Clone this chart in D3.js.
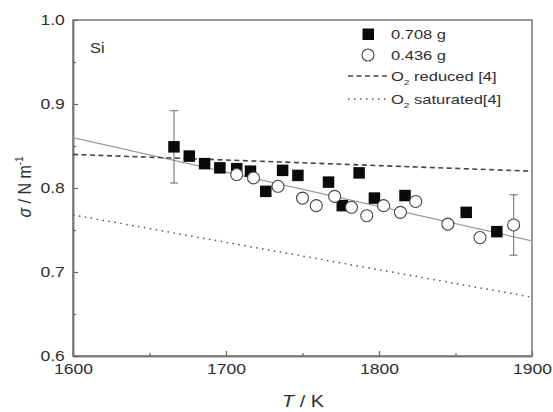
<!DOCTYPE html>
<html>
<head>
<meta charset="utf-8">
<script src="https://cdn.jsdelivr.net/npm/d3@7"></script>
<style>
  body { margin: 0; background: #fff; }
  text { font-family: "Liberation Sans", Arial, sans-serif; fill: #2e2e2e; }
</style>
</head>
<body>
<svg id="chart" width="553" height="412"></svg>
<script>
// surface tension of liquid Si, two sample masses
const heavyT = [1666, 1676, 1686, 1696, 1707, 1716, 1726, 1737, 1747, 1767, 1776, 1787, 1797, 1817, 1857, 1877];
const heavySigma = [0.849, 0.838, 0.829, 0.824, 0.823, 0.820, 0.796, 0.821, 0.815, 0.807, 0.779, 0.818, 0.788, 0.791, 0.771, 0.748];
const lightT = [1707, 1718, 1734, 1750, 1759, 1771, 1782, 1792, 1803, 1814, 1824, 1845, 1866, 1888];
const lightSigma = [0.816, 0.812, 0.802, 0.788, 0.779, 0.790, 0.777, 0.767, 0.779, 0.771, 0.784, 0.757, 0.741, 0.756];

// error bars (one per series)
const errT = [1666, 1888];
const errSigma = [0.849, 0.756];
const errSize = [0.043, 0.036];

// linear fit and literature lines [4]
const fitT = [1600, 1900];
const fitSigma = [0.860, 0.737];
const reducedT = [1600, 1900];
const reducedSigma = [0.840, 0.820];
const saturatedT = [1600, 1900];
const saturatedSigma = [0.768, 0.670];

const xMajor = [1600, 1700, 1800, 1900];
const xMinor = [1650, 1750, 1850];
const yMajor = [0.6, 0.7, 0.8, 0.9, 1.0];
const yMinor = [0.65, 0.75, 0.85, 0.95];

const legendLabels = ['0.708 g', '0.436 g', 'reduced [4]', 'saturated[4]'];

const margin = { top: 20, right: 21, bottom: 56, left: 73 };
const width = 553 - margin.left - margin.right;
const height = 412 - margin.top - margin.bottom;
const stretch = 'scale(1.17,1)';

const svg = d3.select('#chart');
const g = svg.append('g').attr('transform', `translate(${margin.left},${margin.top})`);

const x = d3.scaleLinear().domain([1600, 1900]).range([0, width]);
const y = d3.scaleLinear().domain([0.6, 1.0]).range([height, 0]);

// frame
g.append('rect')
  .attr('width', width)
  .attr('height', height)
  .attr('fill', 'none')
  .attr('stroke', '#777')
  .attr('stroke-width', 1.5);

// axes, ticks pointing inward
const xAxis = g.append('g')
  .attr('transform', `translate(0,${height})`)
  .call(d3.axisBottom(x).tickValues(xMajor).tickSizeInner(-5).tickSizeOuter(0).tickPadding(7).tickFormat(d3.format('d')));
g.append('g')
  .attr('transform', `translate(0,${height})`)
  .call(d3.axisBottom(x).tickValues(xMinor).tickSizeInner(-3).tickSizeOuter(0).tickFormat(''));

const yAxis = g.append('g')
  .call(d3.axisLeft(y).tickValues(yMajor).tickSizeInner(-5).tickSizeOuter(0).tickPadding(7).tickFormat(d3.format('.1f')));
g.append('g')
  .call(d3.axisLeft(y).tickValues(yMinor).tickSizeInner(-3).tickSizeOuter(0).tickFormat(''));

g.selectAll('.domain').attr('stroke', '#777').attr('stroke-width', 1.5);
g.selectAll('.tick line').attr('stroke', '#666').attr('stroke-width', 1.2);
g.selectAll('.tick text')
  .attr('font-size', 15)
  .attr('fill', '#2e2e2e')
  .attr('font-family', '"Liberation Sans", Arial, sans-serif')
  .attr('transform', stretch);
xAxis.selectAll('.tick text').attr('dy', '0.75em');

// lines
const line = d3.line().x(d => x(d[0])).y(d => y(d[1]));

g.append('path')
  .datum(d3.zip(fitT, fitSigma))
  .attr('d', line)
  .attr('fill', 'none')
  .attr('stroke', '#999')
  .attr('stroke-width', 1.2);

g.append('path')
  .datum(d3.zip(reducedT, reducedSigma))
  .attr('d', line)
  .attr('fill', 'none')
  .attr('stroke', '#444')
  .attr('stroke-width', 1.6)
  .attr('stroke-dasharray', '5,3.5');

g.append('path')
  .datum(d3.zip(saturatedT, saturatedSigma))
  .attr('d', line)
  .attr('fill', 'none')
  .attr('stroke', '#555')
  .attr('stroke-width', 1.5)
  .attr('stroke-dasharray', '1.5,4.5');

// error bars
const errData = d3.zip(errT, errSigma, errSize);
const eb = g.append('g').attr('stroke', '#777').attr('stroke-width', 1.1);
eb.selectAll('.err-v').data(errData).join('line')
  .attr('x1', d => x(d[0])).attr('x2', d => x(d[0]))
  .attr('y1', d => y(d[1] - d[2])).attr('y2', d => y(d[1] + d[2]));
eb.selectAll('.err-top').data(errData).join('line')
  .attr('x1', d => x(d[0]) - 4).attr('x2', d => x(d[0]) + 4)
  .attr('y1', d => y(d[1] + d[2])).attr('y2', d => y(d[1] + d[2]));
eb.selectAll('.err-bot').data(errData).join('line')
  .attr('x1', d => x(d[0]) - 4).attr('x2', d => x(d[0]) + 4)
  .attr('y1', d => y(d[1] - d[2])).attr('y2', d => y(d[1] - d[2]));

// markers
const sq = 11.5;
g.selectAll('.heavy').data(d3.zip(heavyT, heavySigma)).join('rect')
  .attr('class', 'heavy')
  .attr('x', d => x(d[0]) - sq / 2)
  .attr('y', d => y(d[1]) - sq / 2)
  .attr('width', sq)
  .attr('height', sq)
  .attr('fill', '#0a0a0a');

g.selectAll('.light').data(d3.zip(lightT, lightSigma)).join('circle')
  .attr('class', 'light')
  .attr('cx', d => x(d[0]))
  .attr('cy', d => y(d[1]))
  .attr('r', 6)
  .attr('fill', '#fff')
  .attr('stroke', '#444')
  .attr('stroke-width', 1.1);

// legend
const lg = svg.append('g');
const lx = 391;
const rowY = [34, 55, 76, 99];
function legendText(i, withO2) {
  const t = lg.append('g').attr('transform', `translate(${lx},${rowY[i] + 5}) scale(1.27,1)`)
    .append('text').attr('font-size', 13);
  if (withO2) {
    t.append('tspan').text('O');
    t.append('tspan').attr('font-size', 8).attr('dy', 4).text('2');
    t.append('tspan').attr('dy', -4).text(' ' + legendLabels[i]);
  } else {
    t.text(legendLabels[i]);
  }
}
lg.append('rect').attr('x', 362.5).attr('y', rowY[0] - 5.5).attr('width', sq).attr('height', sq).attr('fill', '#0a0a0a');
legendText(0, false);
lg.append('circle').attr('cx', 368).attr('cy', rowY[1]).attr('r', 6).attr('fill', '#fff').attr('stroke', '#444').attr('stroke-width', 1.1);
legendText(1, false);
lg.append('line').attr('x1', 348).attr('x2', 388).attr('y1', rowY[2]).attr('y2', rowY[2])
  .attr('stroke', '#444').attr('stroke-width', 1.6).attr('stroke-dasharray', '5,3.5');
legendText(2, true);
lg.append('line').attr('x1', 348).attr('x2', 388).attr('y1', rowY[3]).attr('y2', rowY[3])
  .attr('stroke', '#555').attr('stroke-width', 1.5).attr('stroke-dasharray', '1.5,4.5');
legendText(3, true);

// panel label
svg.append('g').attr('transform', `translate(90,53) ${stretch}`)
  .append('text').attr('font-size', 14).text('Si');

// axis titles
const xt = svg.append('g').attr('transform', `translate(303,407) ${stretch}`)
  .append('text').attr('font-size', 17).attr('text-anchor', 'middle');
xt.append('tspan').attr('font-style', 'italic').text('T');
xt.append('tspan').text(' / K');

const yt = svg.append('g').attr('transform', 'translate(31,187) rotate(-90) scale(1,1.17)')
  .append('text').attr('font-size', 16).attr('text-anchor', 'middle');
yt.append('tspan').attr('font-style', 'italic').text('σ');
yt.append('tspan').text(' / N m');
yt.append('tspan').attr('font-size', 10).attr('dy', -7).text('-1');
</script>
</body>
</html>
